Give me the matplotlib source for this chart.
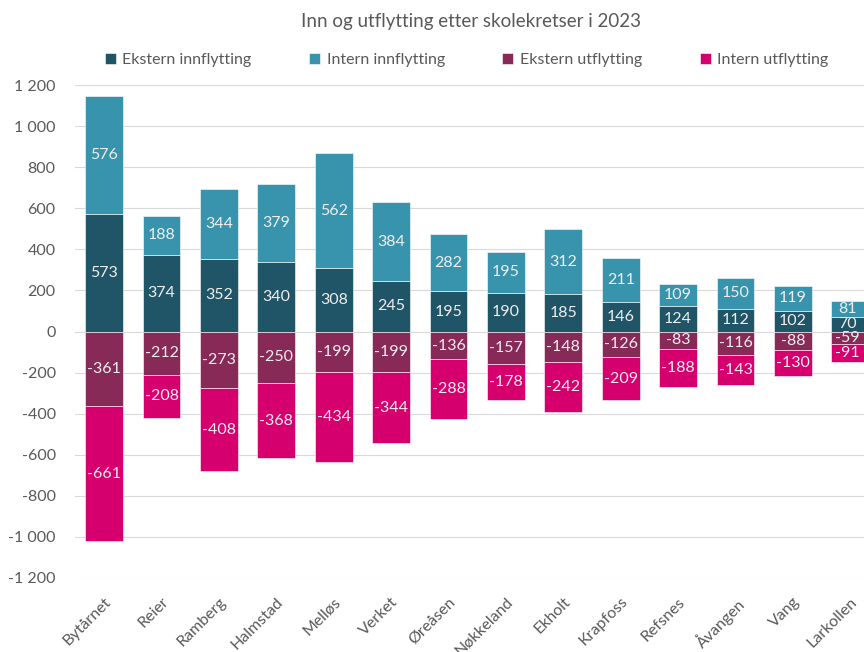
import matplotlib.pyplot as plt
import numpy as np

plt.rcParams['font.family'] = ['Lato', 'DejaVu Sans']

skoler = ['Bytårnet', 'Reier', 'Ramberg', 'Halmstad', 'Melløs', 'Verket', 'Øreåsen',
          'Nøkkeland', 'Ekholt', 'Krapfoss', 'Refsnes', 'Åvangen', 'Vang', 'Larkollen']
ekstern_inn = [573, 374, 352, 340, 308, 245, 195, 190, 185, 146, 124, 112, 102, 70]
intern_inn = [576, 188, 344, 379, 562, 384, 282, 195, 312, 211, 109, 150, 119, 81]
ekstern_ut = [-361, -212, -273, -250, -199, -199, -136, -157, -148, -126, -83, -116, -88, -59]
intern_ut = [-661, -208, -408, -368, -434, -344, -288, -178, -242, -209, -188, -143, -130, -91]

farger = ['#1f5566', '#3893ad', '#882a58', '#d5006d']
navn = ['Ekstern innflytting', 'Intern innflytting', 'Ekstern utflytting', 'Intern utflytting']

fig = plt.figure(figsize=(8.64, 6.52), dpi=100)
ax = fig.add_axes([0.087, 0.1135, 0.913, 0.756])

x = np.arange(len(skoler))
w = 0.66
ei = np.array(ekstern_inn)
ii = np.array(intern_inn)
eu = np.array(ekstern_ut)
iu = np.array(intern_ut)

# stablet: innflytting oppover, utflytting nedover
serier = [(ei, 0), (ii, ei), (eu, 0), (iu, eu)]
for (vals, bunn), farge, nm in zip(serier, farger, navn):
    bars = ax.bar(x, vals, w, bottom=bunn, color=farge, label=nm,
                  edgecolor='#ffffff', linewidth=0.4, zorder=3)
    ax.bar_label(bars, labels=[str(v) for v in vals], label_type='center',
                 color='#eeeeee', fontsize=11.5, zorder=4)

ax.set_ylim(-1200, 1200)
ax.set_xlim(-0.505, 13.24)
yt = np.arange(-1200, 1201, 200)
ax.set_yticks(yt)
ax.set_yticklabels([f'{v:,}'.replace(',', ' ') for v in yt], fontsize=11.5, color='#595959')
ax.set_xticks(x)
ax.set_xticklabels(skoler, rotation=45, ha='right', rotation_mode='anchor',
                   fontsize=11.5, color='#595959')
ax.tick_params(axis='both', length=0)
ax.tick_params(axis='y', pad=14)
ax.tick_params(axis='x', pad=12)
ax.grid(axis='y', color='#d9d9d9', linewidth=0.8, zorder=0)
for s in ax.spines.values():
    s.set_visible(False)

fig.text(0.545, 0.967, 'Inn og utflytting etter skolekretser i 2023', ha='center', va='center',
         fontsize=13.5, color='#595959')
fig.legend(loc='center', bbox_to_anchor=(0.54, 0.908), ncol=4, frameon=False,
           fontsize=11.5, handlelength=0.7, handleheight=0.7, columnspacing=3.6,
           handletextpad=0.4, labelcolor='#595959')

fig.savefig('out.png', dpi=100)
